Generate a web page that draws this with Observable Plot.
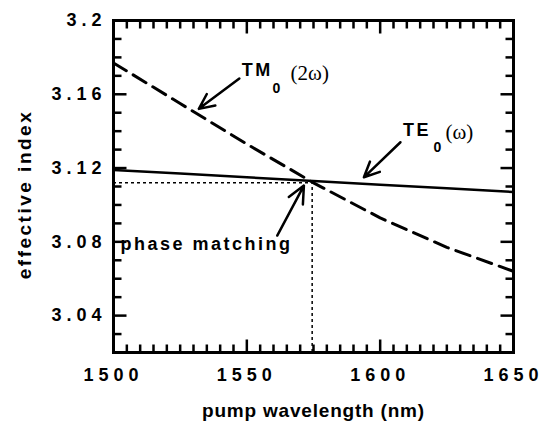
<!DOCTYPE html>
<html><head><meta charset="utf-8">
<script src="https://cdn.jsdelivr.net/npm/d3@7"></script>
<script src="https://cdn.jsdelivr.net/npm/@observablehq/plot@0.6"></script>
<style>
body{margin:0;background:#fff;}
svg text{letter-spacing:2.5px;}
g[aria-label="x-axis tick label"] text, g[aria-label="y-axis tick label"] text{letter-spacing:5px;}
g[font-family="Liberation Serif"] text{letter-spacing:0;}
</style></head><body><div id="chart"></div>
<script>
// Data
const wavelength = [1500, 1525, 1550, 1575, 1600, 1625, 1650];
const te0 = [3.119, 3.117, 3.115, 3.113, 3.111, 3.109, 3.107];
const tm0 = [3.177, 3.155, 3.133, 3.112, 3.093, 3.077, 3.064];
const xTickLabels = [1500, 1550, 1600, 1650];
const yTickLabels = [3.04, 3.08, 3.12, 3.16, 3.2];
const xDomain = [1500, 1650];
const yDomain = [3.02, 3.2];
const matchWavelength = 1574.5;
const matchIndex = 3.112;
// annotation labels (data coordinates)
const labelText = ["TM", "0", "(2ω)", "TE", "0", "(ω)", "phase matching"];
const labelX = [1548.1, 1559.6, 1566.4, 1608.6, 1620.0, 1624.5, 1502.6];
const labelY = [3.1729, 3.1630, 3.1715, 3.1403, 3.1313, 3.1392, 3.0785];
const labelKind = ["main", "sub", "serif", "main", "sub", "serif", "main"];
// arrows (tail -> head)
const arrowX1 = [1547.2, 1607.6, 1561.4];
const arrowY1 = [3.1685, 3.1340, 3.0834];
const arrowX2 = [1532.0, 1593.9, 1571.4];
const arrowY2 = [3.1521, 3.1150, 3.1105];

const te = wavelength.map((w, i) => ({w, n: te0[i]}));
const tm = wavelength.map((w, i) => ({w, n: tm0[i]}));
const labels = labelText.map((t, i) => ({t, x: labelX[i], y: labelY[i], k: labelKind[i]}));
const arrows = arrowX1.map((x1, i) => ({x1, y1: arrowY1[i], x2: arrowX2[i], y2: arrowY2[i]}));

const xMinor = d3.range(1500, 1650.001, 5).filter(v => v % 50 !== 0);
const yMinor = d3.range(302, 320.5, 1).map(v => v / 100).filter(v => !yTickLabels.some(t => Math.abs(t - v) < 1e-6));

const W = 546, H = 426, mL = 113, mR = 33, mT = 20, mB = 74;
const sans = "Liberation Sans, Arial, Helvetica, sans-serif";
const serif = "Liberation Serif";
const minorLen = 8, majorLen = 13, tickW = 2.5;
const xPerPx = (xDomain[1] - xDomain[0]) / (W - mL - mR);
const yPerPx = (yDomain[1] - yDomain[0]) / (H - mT - mB);
const tickStyle = {stroke: "#000", strokeWidth: tickW, strokeLinecap: "butt"};
const xTicks = (vals, len) => [
  Plot.link(vals, {x1: d => d, x2: d => d, y1: yDomain[0], y2: yDomain[0] + len * yPerPx, ...tickStyle}),
  Plot.link(vals, {x1: d => d, x2: d => d, y1: yDomain[1] - len * yPerPx, y2: yDomain[1], ...tickStyle})
];
const yTicks = (vals, len) => [
  Plot.link(vals, {y1: d => d, y2: d => d, x1: xDomain[0], x2: xDomain[0] + len * xPerPx, ...tickStyle}),
  Plot.link(vals, {y1: d => d, y2: d => d, x1: xDomain[1] - len * xPerPx, x2: xDomain[1], ...tickStyle})
];

const plot = Plot.plot({
  width: W,
  height: H,
  marginLeft: mL,
  marginRight: mR,
  marginTop: mT,
  marginBottom: mB,
  style: {fontFamily: sans, background: "#fff"},
  x: {domain: xDomain},
  y: {domain: yDomain},
  marks: [
    // tick labels
    Plot.axisX(xTickLabels, {anchor: "bottom", tickSize: 0, tickPadding: 16, fontSize: 18, fontWeight: "bold", fontFamily: sans, tickFormat: d => String(d), label: null}),
    Plot.axisY(yTickLabels, {anchor: "left", tickSize: 0, tickPadding: 7, fontSize: 18, fontWeight: "bold", fontFamily: sans, tickFormat: d => String(d), label: null}),
    // axis titles
    Plot.text(["pump wavelength (nm)"], {text: d => d, frameAnchor: "bottom", textAnchor: "middle", lineAnchor: "middle", dy: 58, fontSize: 19, fontWeight: "bold", fontFamily: sans}),
    Plot.text(["effective index"], {text: d => d, frameAnchor: "left", textAnchor: "middle", lineAnchor: "middle", rotate: -90, dx: -89, dy: 8, fontSize: 19, fontWeight: "bold", fontFamily: sans}),
    // dotted guide lines
    Plot.ruleY([matchIndex], {x1: xDomain[0], x2: matchWavelength, stroke: "black", strokeWidth: 1.5, strokeDasharray: "3,3"}),
    Plot.ruleX([matchWavelength], {y1: yDomain[0], y2: matchIndex, stroke: "black", strokeWidth: 1.5, strokeDasharray: "3,3"}),
    // curves
    Plot.line(te, {x: "w", y: "n", stroke: "black", strokeWidth: 2.5}),
    Plot.line(tm, {x: "w", y: "n", stroke: "black", strokeWidth: 3, strokeDasharray: "15,8"}),
    // arrows
    Plot.arrow(arrows, {x1: "x1", y1: "y1", x2: "x2", y2: "y2", stroke: "black", strokeWidth: 2.5, headLength: 13, headAngle: 50}),
    // annotation labels
    Plot.text(labels.filter(d => d.k === "main"), {x: "x", y: "y", text: "t", textAnchor: "start", fontSize: 18, fontWeight: "bold", fontFamily: sans}),
    Plot.text(labels.filter(d => d.k === "sub"), {x: "x", y: "y", text: "t", textAnchor: "start", fontSize: 14, fontWeight: "bold", fontFamily: sans}),
    Plot.text(labels.filter(d => d.k === "serif"), {x: "x", y: "y", text: "t", textAnchor: "start", fontSize: 21, fontFamily: serif}),
    Plot.frame({stroke: "black", strokeWidth: 3}),
    // inward tick marks on all four sides (drawn last)
    ...xTicks(xMinor, minorLen),
    ...xTicks(xTickLabels, majorLen),
    ...yTicks(yMinor, minorLen),
    ...yTicks(yTickLabels, majorLen)
  ]
});
d3.select(plot).selectAll("text")
  .filter(function () { return this.textContent === "pump wavelength (nm)"; })
  .style("letter-spacing", "0.8px");
document.getElementById("chart").append(plot);
</script></body></html>
